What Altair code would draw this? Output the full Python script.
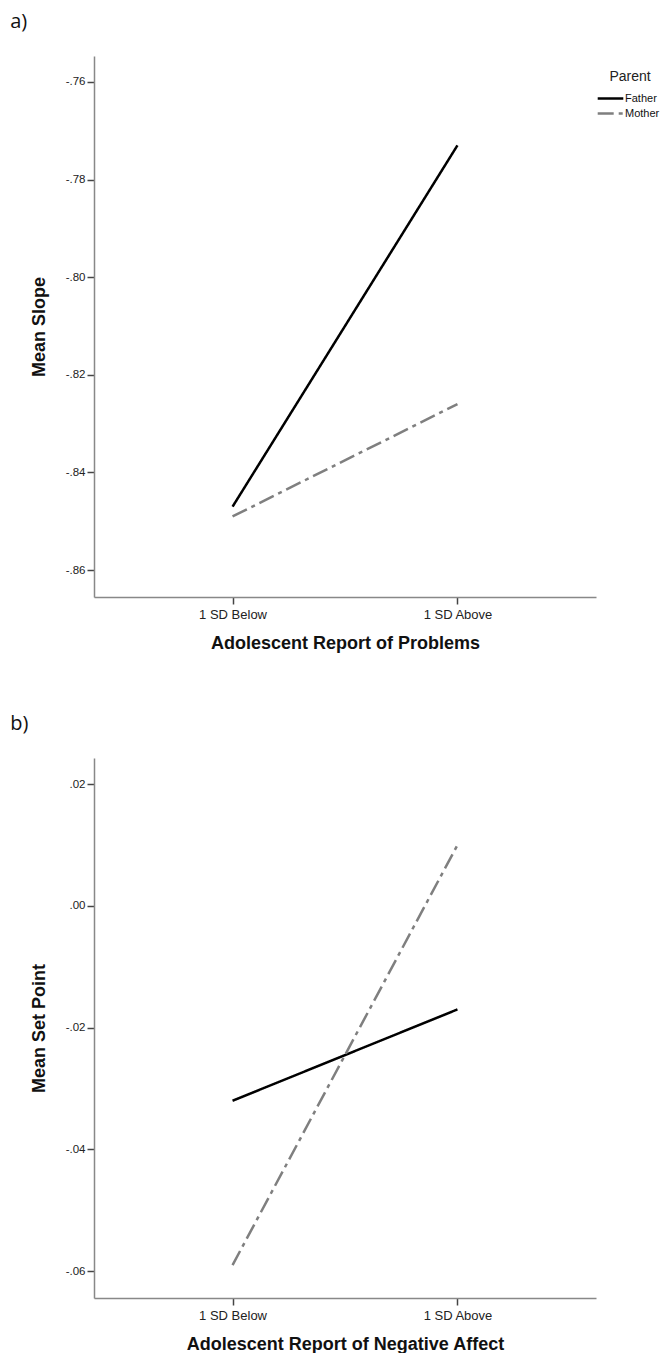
import altair as alt
import pandas as pd

x_labels = ["1 SD Below", "1 SD Above"]
parents = ["Father", "Mother"]

# Panel a: Mean Slope
a_father = [-0.847, -0.773]
a_mother = [-0.849, -0.826]
a_ticks = [-0.86, -0.84, -0.82, -0.80, -0.78, -0.76]
a_domain = [-0.8655, -0.7547]

# Panel b: Mean Set Point
b_father = [-0.032, -0.017]
b_mother = [-0.059, 0.010]
b_ticks = [-0.06, -0.04, -0.02, 0.00, 0.02]
b_domain = [-0.0644, 0.0243]

FONT = "Liberation Sans"


def panel(letter, ytitle, xtitle, fvals, mvals, ydomain, ticks, height):
    df = pd.DataFrame({
        "x": x_labels * 2,
        "Parent": [parents[0]] * 2 + [parents[1]] * 2,
        "y": fvals + mvals,
    })
    legend = alt.Legend(
        title="Parent", orient="none", legendX=507, legendY=14,
        titleFont=FONT, titleFontSize=14, titleFontWeight="normal",
        titleColor="#222", titleAnchor="middle", titlePadding=5,
        labelFont=FONT, labelFontSize=11, labelColor="#111",
        labelOffset=5, symbolType="M-1.6,0H1.6", symbolSize=256,
        symbolStrokeWidth=2.3, rowPadding=-10, padding=0,
    )
    return alt.Chart(
        df,
        title=alt.TitleParams(
            letter, anchor="start", frame="bounds", font="Open Sans",
            fontSize=20, fontWeight="normal", color="#111", dx=-20, offset=24,
        ),
    ).mark_line(strokeWidth=2.5).encode(
        x=alt.X(
            "x:N", sort=x_labels,
            scale=alt.Scale(type="point", padding=0.616),
            axis=alt.Axis(title=xtitle, labelAngle=0, titlePadding=13,
                          labelPadding=4, labelFontSize=13),
        ),
        y=alt.Y(
            "y:Q",
            scale=alt.Scale(domain=ydomain, nice=False, zero=False),
            axis=alt.Axis(
                title=ytitle, values=ticks, titlePadding=17, labelPadding=2,
                labelFontSize=11.5,
                labelExpr="(datum.value < 0 ? '-' : '') + replace(format(abs(datum.value), '.2f'), '0.', '.')",
            ),
        ),
        color=alt.Color(
            "Parent:N",
            scale=alt.Scale(domain=parents, range=["#000000", "#7f7f7f"]),
            legend=legend,
        ),
        strokeDash=alt.StrokeDash(
            "Parent:N",
            scale=alt.Scale(domain=parents, range=[[1, 0], [16, 5, 4, 5]]),
            legend=legend,
        ),
    ).properties(width=502, height=height)


chart_a = panel("a)", "Mean Slope", "Adolescent Report of Problems",
                a_father, a_mother, a_domain, a_ticks, 541)
chart_b = panel("b)", "Mean Set Point", "Adolescent Report of Negative Affect",
                b_father, b_mother, b_domain, b_ticks, 540)

chart = alt.vconcat(chart_a, chart_b, spacing=62).properties(
    padding={"left": 2, "top": 4, "right": 0, "bottom": 0}
).configure_view(stroke=None).configure_axis(
    labelFont=FONT, labelColor="#222",
    titleFont=FONT, titleFontSize=18, titleFontWeight="bold", titleColor="#111",
    domainColor="#888888", domainWidth=1.5, tickColor="#444444",
    tickSize=7, tickWidth=1.5, grid=False,
)

chart.save("out.html", embed_options={"renderer": "svg", "actions": False})
